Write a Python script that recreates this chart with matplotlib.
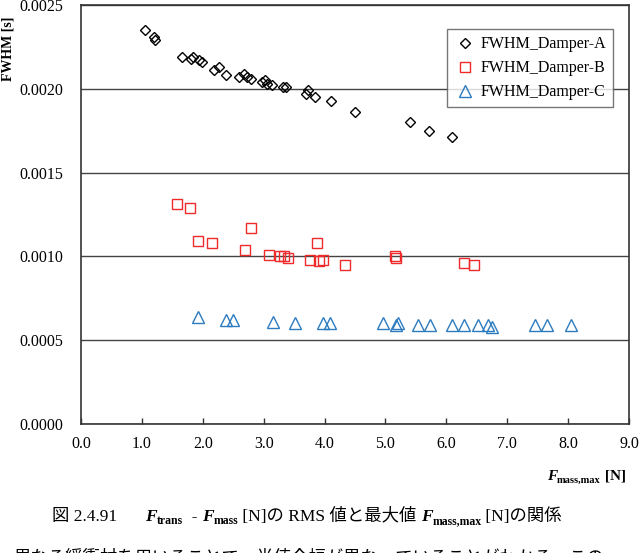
import numpy as np
import matplotlib
matplotlib.use('Agg')
from matplotlib import pyplot as plt
from matplotlib.ticker import FormatStrFormatter

plt.rcParams['font.family'] = ['Liberation Serif', 'Noto Sans CJK JP']

# Damper-A (diamonds)
a_x = [1.05, 1.20, 1.22, 1.66, 1.80, 1.84, 1.94, 1.98, 2.18, 2.27, 2.38, 2.59, 2.67,
       2.73, 2.80, 2.97, 3.02, 3.05, 3.13, 3.31, 3.36, 3.69, 3.72, 3.84, 4.10, 4.50,
       5.40, 5.71, 6.09]
a_y = [0.00235, 0.00231, 0.00229, 0.00219, 0.00218, 0.00219, 0.00217, 0.00216, 0.00211,
       0.00213, 0.00208, 0.00207, 0.00209, 0.00207, 0.00206, 0.00204, 0.00205, 0.00203,
       0.00202, 0.00201, 0.00201, 0.00197, 0.00199, 0.00195, 0.00193, 0.00186,
       0.00180, 0.00175, 0.00171]

# Damper-B (squares)
b_x = [1.58, 1.79, 1.92, 2.15, 2.70, 2.79, 3.09, 3.27, 3.33, 3.40, 3.76, 3.87, 3.91,
       3.97, 4.33, 5.16, 5.18, 6.29, 6.45]
b_y = [0.00131, 0.00129, 0.00109, 0.00108, 0.00104, 0.00117, 0.00101, 0.00100, 0.00100,
       0.00099, 0.00098, 0.00108, 0.00097, 0.00098, 0.00095, 0.00100, 0.00099,
       0.00096, 0.00095]

# Damper-C (triangles)
c_x = [1.92, 2.38, 2.50, 3.15, 3.52, 3.97, 4.09, 4.96, 5.18, 5.21, 5.54, 5.73, 6.10,
       6.29, 6.52, 6.68, 6.75, 7.45, 7.65, 8.05]
c_y = [0.00064, 0.00062, 0.00062, 0.00061, 0.00060, 0.00060, 0.00060, 0.00060, 0.00059,
       0.00060, 0.00059, 0.00059, 0.00059, 0.00059, 0.00059, 0.00059, 0.00058,
       0.00059, 0.00059, 0.00059]

labels = ['FWHM_Damper-A', 'FWHM_Damper-B', 'FWHM_Damper-C']

fig = plt.figure(figsize=(6.42, 5.53), dpi=100)
ax = fig.add_axes([81/642, 1-424/553, 548/642, 419/553])

ax.plot(a_x, a_y, 'D', ms=5.5, mfc='none', mec='black', mew=1.0, label=labels[0])
ax.plot(b_x, b_y, 's', ms=7.3, mfc='none', mec='#ee2a2a', mew=1.0, label=labels[1])
ax.plot(c_x, c_y, '^', ms=8, mfc='none', mec='#2c7bc0', mew=1.0, label=labels[2])

ax.set_xlim(0, 9)
ax.set_ylim(0, 0.0025)
ax.set_xticks(np.arange(0, 9.01, 1.0))
ax.set_yticks(np.arange(0, 0.00251, 0.0005))
ax.xaxis.set_major_formatter(FormatStrFormatter('%.1f'))
ax.yaxis.set_major_formatter(FormatStrFormatter('%.4f'))
ax.grid(axis='y', color='#444444', lw=1.0)
ax.set_axisbelow(True)
ax.tick_params(axis='x', direction='in', length=4, width=1, color='#333333',
               pad=9, labelsize=11.5)
ax.tick_params(axis='y', length=0, pad=13, labelsize=11.5)
for s in ax.spines.values():
    s.set_color('#333333')
    s.set_linewidth(1.2)

leg = ax.legend(loc='upper right', fontsize=11.5, frameon=True, fancybox=False,
                edgecolor='#555555', borderpad=0.45, labelspacing=0.5,
                handletextpad=0.3, handlelength=1.3, borderaxespad=0,
                bbox_to_anchor=(613/642, 1-29/553), bbox_transform=fig.transFigure)
leg.get_frame().set_linewidth(1.0)

fig.text(8/642, 1-49/553, 'FWHM [s]', rotation=90, ha='center', va='center',
         fontsize=10, fontweight='bold')

renderer = fig.canvas.get_renderer()


def chain(segments, x0, ybase):
    # place text pieces one after another on a baseline (pixel coords)
    x = x0
    for txt, size, weight, style, dy in segments:
        t = fig.text(x/642, 1-(ybase+dy)/553, txt, fontsize=size, fontweight=weight,
                     fontstyle=style, ha='left', va='baseline')
        bb = t.get_window_extent(renderer)
        x += bb.width
    return x


# x axis title
chain([('F', 11, 'bold', 'italic', 0),
       ('mass,max', 7.5, 'bold', 'normal', 3),
       (' [N]', 11, 'bold', 'normal', 0)], 547, 480)

# caption
fig.text(52/642, 1-521/553, '図 2.4.91', fontsize=12.5, ha='left', va='baseline')
chain([('F', 12.5, 'bold', 'italic', 0),
       ('trans', 8.5, 'bold', 'normal', 3),
       ('  - ', 12.5, 'normal', 'normal', 0),
       ('F', 12.5, 'bold', 'italic', 0),
       ('mass', 8.5, 'bold', 'normal', 3),
       (' [N]の RMS 値と最大値 ', 12.5, 'normal', 'normal', 0),
       ('F', 12.5, 'bold', 'italic', 0),
       ('mass,max', 8.5, 'bold', 'normal', 3),
       (' [N]の関係', 12.5, 'normal', 'normal', 0)], 145, 521)

# body text line, cut off by the bottom edge as in the source page
fig.text(13/642, 1-563/553, '異なる緩衝材を用いることで、半値全幅が異なっていることがわかる。この',
         fontsize=12.5, ha='left', va='baseline')

fig.savefig('out.png', dpi=100)
